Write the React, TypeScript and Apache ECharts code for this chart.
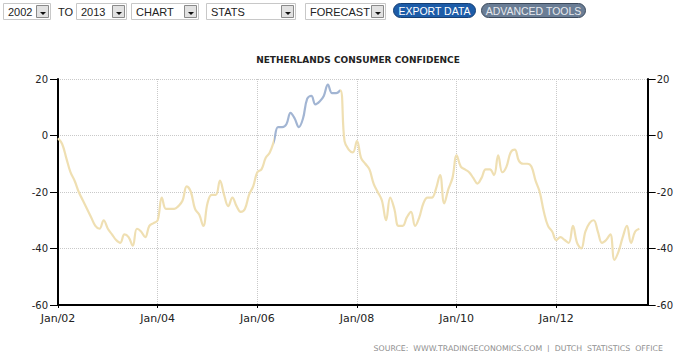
import React, { useEffect, useRef } from "react";
import * as echarts from "echarts";

const monthNames = ["Jan", "Feb", "Mar", "Apr", "May", "Jun", "Jul", "Aug", "Sep", "Oct", "Nov", "Dec"];
const years = ["02", "03", "04", "05", "06", "07", "08", "09", "10", "11", "12", "13"];
const categories: string[] = [];
years.forEach((y) => monthNames.forEach((m) => categories.push(m + "/" + y)));
categories.splice(143); // Jan/02 .. Nov/13

// Monthly consumer confidence, Jan 2002 .. Sep 2013
const values: number[] = [
  -1, -3, -8, -13, -16, -20, -23, -26, -29, -32, -33, -30,
  -33, -35, -37, -38, -35, -36, -39, -33, -34, -36, -32, -31,
  -30, -22, -26, -26, -26, -25, -23, -18, -20, -26, -28, -32,
  -24, -21, -21, -16, -21, -25, -22, -25, -27, -26, -21, -18,
  -13, -12, -8, -6, -2, 3, 3, 4, 8, 6, 3, 6,
  13, 14, 11, 12, 14, 18, 15, 15, 16, -2, -5, -6,
  -2, -8, -10, -12, -17, -20, -23, -30, -22, -26, -32, -32,
  -29, -27, -32, -29, -24, -22, -22, -19, -14, -24, -19, -15,
  -7, -11, -12, -13, -15, -17, -15, -12, -12, -14, -7, -13,
  -11, -6, -5, -9, -10, -10, -11, -16, -20, -27, -32, -34,
  -37, -36, -37, -38, -32, -38, -40, -34, -31, -30, -34, -38,
  -37, -35, -44, -41, -36, -32, -38, -34, -33,
];

const highlightStart = 52;
const highlightEnd = 68;
const yTicks = { min: -60, max: 20, interval: 20 };

const titleText = "NETHERLANDS CONSUMER CONFIDENCE";
const sourceText = "SOURCE:  WWW.TRADINGECONOMICS.COM  |  DUTCH  STATISTICS  OFFICE";

const dropdowns = [
  { label: "2002", x: 3, w: 47 },
  { label: "2013", x: 76, w: 50 },
  { label: "CHART", x: 131, w: 67 },
  { label: "STATS", x: 206, w: 89 },
  { label: "FORECAST", x: 305, w: 80 },
];

const TAN = "#efdfb2";
const BLUE = "#a2b5d3";

function buildToolbar(): any[] {
  const els: any[] = [];
  const top = 3;
  const h = 16;
  dropdowns.forEach((d) => {
    els.push({
      type: "rect",
      shape: { x: d.x + 0.5, y: top + 0.5, width: d.w, height: h },
      style: { fill: "#ffffff", stroke: "#c8c8c8", lineWidth: 1 },
    });
    els.push({
      type: "text",
      style: {
        text: d.label,
        x: d.x + 5,
        y: top + h / 2 + 1,
        fill: "#222",
        font: '11px "Liberation Sans", Arial, sans-serif',
        verticalAlign: "middle",
        textVerticalAlign: "middle",
      },
    });
    const bx = d.x + d.w - 14;
    els.push({
      type: "rect",
      shape: { x: bx + 0.5, y: top + 2.5, width: 12, height: h - 4 },
      style: { fill: "#e2e2e2", stroke: "#8a8a8a", lineWidth: 1 },
    });
    els.push({
      type: "polygon",
      shape: { points: [[bx + 4, top + 9], [bx + 10, top + 9], [bx + 7, top + 12]] },
      style: { fill: "#111" },
    });
  });
  els.push({
    type: "text",
    style: {
      text: "TO",
      x: 58,
      y: top + h / 2 + 1,
      fill: "#222",
      font: '11px "Liberation Sans", Arial, sans-serif',
      verticalAlign: "middle",
      textVerticalAlign: "middle",
    },
  });
  const pills = [
    { label: "EXPORT DATA", x: 393, w: 82, fill: "#1d5ca8", stroke: "#163f73", color: "#ffffff" },
    { label: "ADVANCED TOOLS", x: 481, w: 104, fill: "#6a7d95", stroke: "#3c4a5c", color: "#e6e9ee" },
  ];
  pills.forEach((p) => {
    els.push({
      type: "rect",
      shape: { x: p.x + 0.5, y: 3.5, width: p.w, height: 14, r: 7 },
      style: { fill: p.fill, stroke: p.stroke, lineWidth: 1 },
    });
    els.push({
      type: "text",
      style: {
        text: p.label,
        x: p.x + p.w / 2 + 0.5,
        y: 11,
        fill: p.color,
        font: '10.5px "Liberation Sans", Arial, sans-serif',
        align: "center",
        textAlign: "center",
        verticalAlign: "middle",
        textVerticalAlign: "middle",
      },
    });
  });
  return els;
}

export default function App() {
  const ref = useRef<HTMLDivElement>(null);
  useEffect(() => {
    if (!ref.current) return;
    const chart = echarts.init(ref.current, null, { renderer: "svg" });
    const showIdx = (i: number) => i % 24 === 0;
    const axisFont = { fontFamily: '"DejaVu Sans", Verdana, sans-serif', fontSize: 10, color: "#222" };
    chart.setOption({
      animation: false,
      backgroundColor: "#ffffff",
      title: {
        text: titleText,
        left: 353,
        top: 50,
        textAlign: "center",
        textStyle: {
          fontFamily: '"DejaVu Sans", Verdana, sans-serif',
          fontSize: 9,
          fontWeight: "bold",
          color: "#222",
        },
      },
      grid: { left: 58, right: 26, top: 79, bottom: 47, containLabel: false },
      xAxis: {
        type: "category",
        data: categories,
        boundaryGap: false,
        axisLine: { show: true, onZero: false, lineStyle: { color: "#000", width: 2 } },
        axisTick: { show: true, interval: (i: number) => showIdx(i), length: 3, lineStyle: { color: "#000" } },
        axisLabel: { interval: (i: number) => showIdx(i), margin: 8, ...axisFont, fontSize: 11 },
        splitLine: {
          show: true,
          interval: (i: number) => showIdx(i),
          lineStyle: { color: "#c9c9c9", type: "dotted", width: 1 },
        },
      },
      yAxis: [
        {
          type: "value",
          position: "left",
          ...yTicks,
          axisLine: { show: true, onZero: false, lineStyle: { color: "#000", width: 2 } },
          axisTick: { show: true, length: 8, lineStyle: { color: "#000" } },
          axisLabel: { margin: 10, ...axisFont },
          splitLine: { show: true, lineStyle: { color: "#c9c9c9", type: "dotted", width: 1 } },
        },
        {
          type: "value",
          position: "right",
          ...yTicks,
          axisLine: { show: true, onZero: false, lineStyle: { color: "#000", width: 2 } },
          axisTick: { show: true, length: 8, lineStyle: { color: "#000" } },
          axisLabel: { margin: 9, ...axisFont },
          splitLine: { show: false },
        },
      ],
      visualMap: {
        type: "piecewise",
        show: false,
        dimension: 0,
        seriesIndex: 0,
        pieces: [{ gte: highlightStart, lte: highlightEnd, color: BLUE }],
        outOfRange: { color: TAN },
      },
      series: [
        {
          type: "line",
          data: values,
          smooth: 0.4,
          showSymbol: false,
          symbol: "none",
          lineStyle: { width: 2.2 },
          yAxisIndex: 0,
        },
      ],
      graphic: [
        ...buildToolbar(),
        {
          type: "text",
          style: {
            text: sourceText,
            x: 663,
            y: 348,
            fill: "#8f8f8f",
            font: '7.8px "DejaVu Sans", Verdana, sans-serif',
            align: "right",
            textAlign: "right",
            verticalAlign: "middle",
            textVerticalAlign: "middle",
          },
        },
      ],
    });
    return () => chart.dispose();
  }, []);
  return (
    <div style={{ position: "fixed", left: 0, top: 0, width: 676, height: 352, background: "#fff" }}>
      <div ref={ref} style={{ width: 676, height: 352 }} />
    </div>
  );
}
